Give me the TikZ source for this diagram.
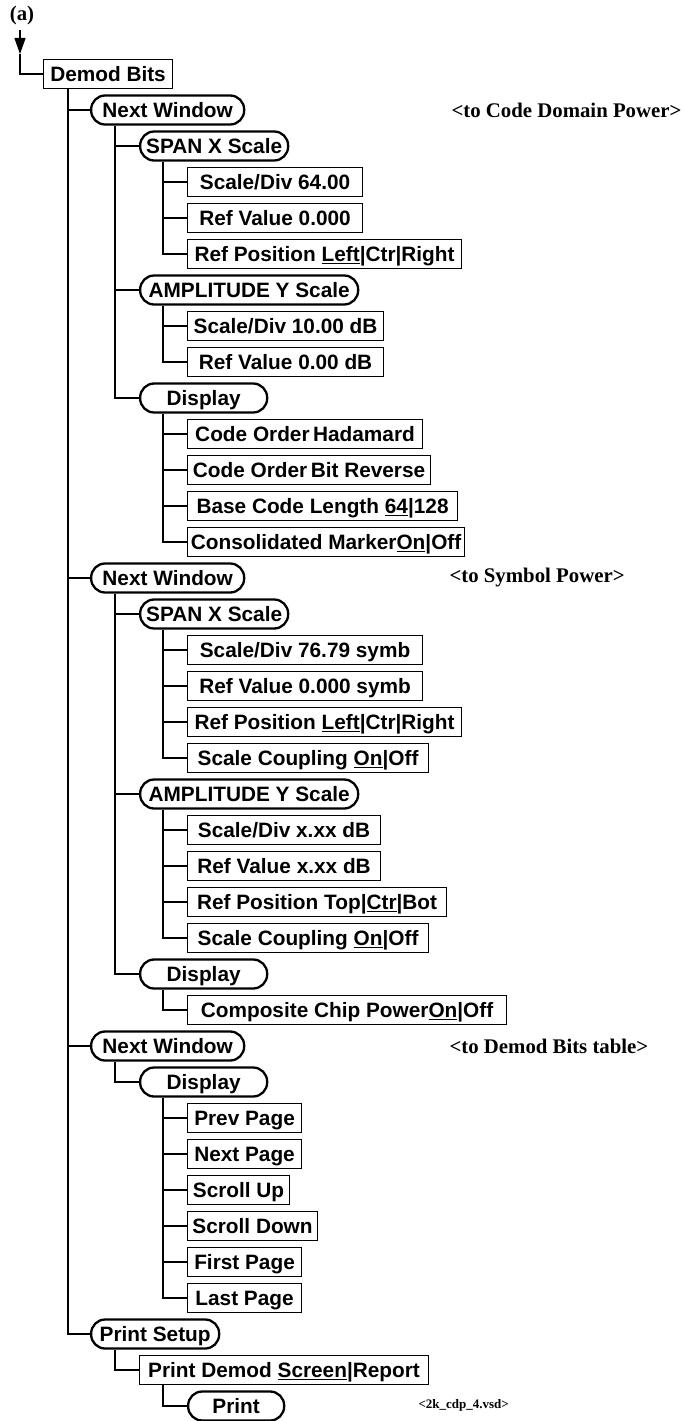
\documentclass[tikz,border=0pt]{standalone}
\usepackage{fontspec}
\setsansfont{Liberation Sans}
\newfontfamily\notefont{Liberation Serif}
\usetikzlibrary{arrows.meta}

\begin{document}
\begin{tikzpicture}[
  x=1pt, y=-1pt,
  font=\sffamily\bfseries\fontsize{20.8}{24}\selectfont,
  box/.style={draw, line width=1.1pt, anchor=west, minimum height=29pt, text height=17pt, text depth=2pt, inner xsep=3pt, inner ysep=0pt},
  pill/.style={box, line width=2.3pt, rounded corners=14pt},
  note/.style={anchor=west, font=\notefont\bfseries\fontsize{20.8}{24}\selectfont},
  link/.style={line width=1.1pt}
]
\useasboundingbox (0,0) rectangle (683,1421);

\node[note, anchor=center] (lbl) at (22,15) {(a)};
\coordinate (start) at (20,30);
\coordinate (tip) at (20,54);

% top level
\node[box, minimum width=129] (db) at (43,74) {Demod Bits};

% code domain power
\node[pill, minimum width=153] (nwA) at (90,110) {Next Window};
\node[note] (toCdp) at (448,110) {<to Code Domain Power>};
\node[pill, minimum width=148] (spanA) at (139,146) {SPAN X Scale};
\node[box, minimum width=175] (sdA) at (187,182) {Scale/Div 64.00};
\node[box, minimum width=175] (rvA) at (187,218) {Ref Value 0.000};
\node[box, minimum width=274] (rpA) at (187,254) {Ref Position \underline{Left}|Ctr|Right};
\node[pill, minimum width=218] (ampA) at (139,290) {AMPLITUDE Y Scale};
\node[box, minimum width=196] (sdB) at (187,326) {Scale/Div 10.00 dB};
\node[box, minimum width=196] (rvB) at (187,362) {Ref Value 0.00 dB};
\node[pill, minimum width=127] (dispA) at (139,398) {Display};
\node[box, minimum width=235] (coH) at (187,434) {Code Order\,Hadamard};
\node[box, minimum width=243] (coB) at (187,470) {Code Order\,Bit Reverse};
\node[box, minimum width=270] (bcl) at (187,506) {Base Code Length \underline{64}|128};
\node[box, minimum width=277] (cmk) at (187,542) {Consolidated Marker\underline{On}|Off};

% symbol power
\node[pill, minimum width=153] (nwB) at (90,578) {Next Window};
\node[note] (toSym) at (446,578) {<to Symbol Power>};
\node[pill, minimum width=148] (spanB) at (139,614) {SPAN X Scale};
\node[box, minimum width=235] (sdC) at (187,650) {Scale/Div 76.79 symb};
\node[box, minimum width=235] (rvC) at (187,686) {Ref Value 0.000 symb};
\node[box, minimum width=274] (rpB) at (187,722) {Ref Position \underline{Left}|Ctr|Right};
\node[box, minimum width=241] (scA) at (187,758) {Scale Coupling \underline{On}|Off};
\node[pill, minimum width=218] (ampB) at (139,794) {AMPLITUDE Y Scale};
\node[box, minimum width=193] (sdD) at (187,830) {Scale/Div x.xx dB};
\node[box, minimum width=193] (rvD) at (187,866) {Ref Value x.xx dB};
\node[box, minimum width=259] (rpC) at (187,902) {Ref Position Top|\underline{Ctr}|Bot};
\node[box, minimum width=241] (scB) at (187,938) {Scale Coupling \underline{On}|Off};
\node[pill, minimum width=127] (dispB) at (139,974) {Display};
\node[box, minimum width=319] (ccp) at (187,1010) {Composite Chip Power\underline{On}|Off};

% demod bits table
\node[pill, minimum width=153] (nwC) at (90,1046) {Next Window};
\node[note] (toTbl) at (446,1046) {<to Demod Bits table>};
\node[pill, minimum width=127] (dispC) at (139,1082) {Display};
\node[box, minimum width=114] (prev) at (187,1118) {Prev Page};
\node[box, minimum width=114] (next) at (187,1154) {Next Page};
\node[box, minimum width=102] (sup) at (187,1190) {Scroll Up};
\node[box, minimum width=130] (sdown) at (187,1226) {Scroll Down};
\node[box, minimum width=114] (first) at (187,1262) {First Page};
\node[box, minimum width=114] (last) at (187,1298) {Last Page};

% print
\node[pill, minimum width=128] (ps) at (90,1334) {Print Setup};
\node[box, minimum width=289] (pdemod) at (139,1370) {Print Demod \underline{Screen}|Report};
\node[pill, minimum width=96] (print) at (187,1406) {Print};
\node[note, font=\notefont\bfseries\fontsize{13}{15}\selectfont] (file) at (415,1405) {<2k\_cdp\_4.vsd>};

% connectors
\draw[link, -{Triangle[length=16pt, width=11pt]}] (start) -- (tip);
\draw[link] (tip) |- (db.west);
\draw[link] ([xshift=25pt]db.south west) |- (nwA.west);
\draw[link] ([xshift=25pt]db.south west) |- (nwB.west);
\draw[link] ([xshift=25pt]db.south west) |- (nwC.west);
\draw[link] ([xshift=25pt]db.south west) |- (ps.west);
\draw[link] ([xshift=25pt]nwA.south west) |- (spanA.west);
\draw[link] ([xshift=25pt]nwA.south west) |- (ampA.west);
\draw[link] ([xshift=25pt]nwA.south west) |- (dispA.west);
\draw[link] ([xshift=24pt]spanA.south west) |- (sdA.west);
\draw[link] ([xshift=24pt]spanA.south west) |- (rvA.west);
\draw[link] ([xshift=24pt]spanA.south west) |- (rpA.west);
\draw[link] ([xshift=24pt]ampA.south west) |- (sdB.west);
\draw[link] ([xshift=24pt]ampA.south west) |- (rvB.west);
\draw[link] ([xshift=24pt]dispA.south west) |- (coH.west);
\draw[link] ([xshift=24pt]dispA.south west) |- (coB.west);
\draw[link] ([xshift=24pt]dispA.south west) |- (bcl.west);
\draw[link] ([xshift=24pt]dispA.south west) |- (cmk.west);
\draw[link] ([xshift=25pt]nwB.south west) |- (spanB.west);
\draw[link] ([xshift=25pt]nwB.south west) |- (ampB.west);
\draw[link] ([xshift=25pt]nwB.south west) |- (dispB.west);
\draw[link] ([xshift=24pt]spanB.south west) |- (sdC.west);
\draw[link] ([xshift=24pt]spanB.south west) |- (rvC.west);
\draw[link] ([xshift=24pt]spanB.south west) |- (rpB.west);
\draw[link] ([xshift=24pt]spanB.south west) |- (scA.west);
\draw[link] ([xshift=24pt]ampB.south west) |- (sdD.west);
\draw[link] ([xshift=24pt]ampB.south west) |- (rvD.west);
\draw[link] ([xshift=24pt]ampB.south west) |- (rpC.west);
\draw[link] ([xshift=24pt]ampB.south west) |- (scB.west);
\draw[link] ([xshift=24pt]dispB.south west) |- (ccp.west);
\draw[link] ([xshift=25pt]nwC.south west) |- (dispC.west);
\draw[link] ([xshift=24pt]dispC.south west) |- (prev.west);
\draw[link] ([xshift=24pt]dispC.south west) |- (next.west);
\draw[link] ([xshift=24pt]dispC.south west) |- (sup.west);
\draw[link] ([xshift=24pt]dispC.south west) |- (sdown.west);
\draw[link] ([xshift=24pt]dispC.south west) |- (first.west);
\draw[link] ([xshift=24pt]dispC.south west) |- (last.west);
\draw[link] ([xshift=25pt]ps.south west) |- (pdemod.west);
\draw[link] ([xshift=24pt]pdemod.south west) |- (print.west);
\end{tikzpicture}
\end{document}
